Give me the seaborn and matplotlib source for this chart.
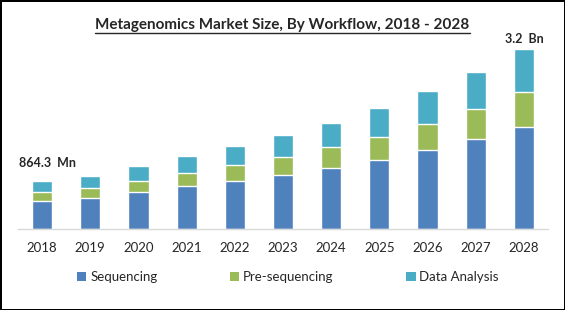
import matplotlib
matplotlib.use("Agg")
import matplotlib.pyplot as plt
import seaborn as sns
import pandas as pd
import numpy as np
from matplotlib.patches import Patch

years = ["2018", "2019", "2020", "2021", "2022", "2023", "2024", "2025", "2026", "2027", "2028"]
sequencing = [505, 558, 666, 774, 864, 972, 1098, 1242, 1422, 1620, 1836]
pre_sequencing = [160, 180, 198, 234, 288, 324, 378, 414, 468, 540, 630]
data_analysis = [199.3, 216, 270, 306, 342, 396, 432, 522, 594, 666, 774]
series_names = ["Sequencing", "Pre-sequencing", "Data Analysis"]
colors = ["#4F81BD", "#9BBB59", "#4BACC6"]
first_label = "864.3  Mn"
last_label = "3.2  Bn"
title = "Metagenomics Market Size, By Workflow, 2018 - 2028"

sns.set_theme(style="white")
plt.rcParams["font.family"] = ["Lato", "DejaVu Sans"]

df = pd.DataFrame({"year": years, "seq": sequencing, "pre": pre_sequencing, "da": data_analysis})
df["c1"] = df["seq"]
df["c2"] = df["seq"] + df["pre"]
df["c3"] = df["c2"] + df["da"]

fig = plt.figure(figsize=(5.65, 3.10), dpi=100)
fig.patch.set_edgecolor("black")
fig.patch.set_linewidth(2)
ax = fig.add_axes([18/565, 1 - 229/310, 530/565, 189/310])

for col, c in zip(["c3", "c2", "c1"], colors[::-1]):
    sns.barplot(data=df, x="year", y=col, color=c, width=0.42, ax=ax, saturation=1)

ax.set_xlim(-0.5, len(years) - 0.5)
ax.set_ylim(0, 3402)
ax.set_xlabel("")
ax.set_ylabel("")
ax.set_yticks([])
for s in ["top", "left", "right"]:
    ax.spines[s].set_visible(False)
ax.spines["bottom"].set_color("#D9D9D9")
ax.spines["bottom"].set_linewidth(1)
ax.tick_params(axis="x", length=0, pad=9, labelsize=9.5, labelcolor="#262626")

ax.annotate(first_label, xy=(0, df["c3"].iloc[0]), xytext=(5, 12), textcoords="offset pixels",
            ha="center", va="bottom", fontsize=9, fontweight="bold", color="#262626")
ax.annotate(last_label, xy=(len(years) - 1, df["c3"].iloc[-1]), xytext=(0, 4), textcoords="offset pixels",
            ha="center", va="bottom", fontsize=9, fontweight="bold", color="#262626")

fig.text(0.5, 1 - 25/310, title, ha="center", va="center", fontsize=11, fontweight="bold",
         color="#262626")
# underline
t = fig.texts[0]
fig.canvas.draw()
bb = t.get_window_extent()
fig.add_artist(plt.Line2D([bb.x0/565, bb.x1/565], [(bb.y0 - 1)/310, (bb.y0 - 1)/310],
                          color="#262626", linewidth=1, transform=fig.transFigure))

handles = [Patch(facecolor=c, edgecolor="none") for c in colors]
fig.legend(handles, series_names, loc="center left", bbox_to_anchor=(77/565, 1 - 277/310), ncol=3,
           frameon=False, fontsize=9.5, handlelength=0.7, handleheight=0.7, handletextpad=0.3,
           columnspacing=5.5, borderaxespad=0, borderpad=0)

fig.savefig("out.png", dpi=100)
